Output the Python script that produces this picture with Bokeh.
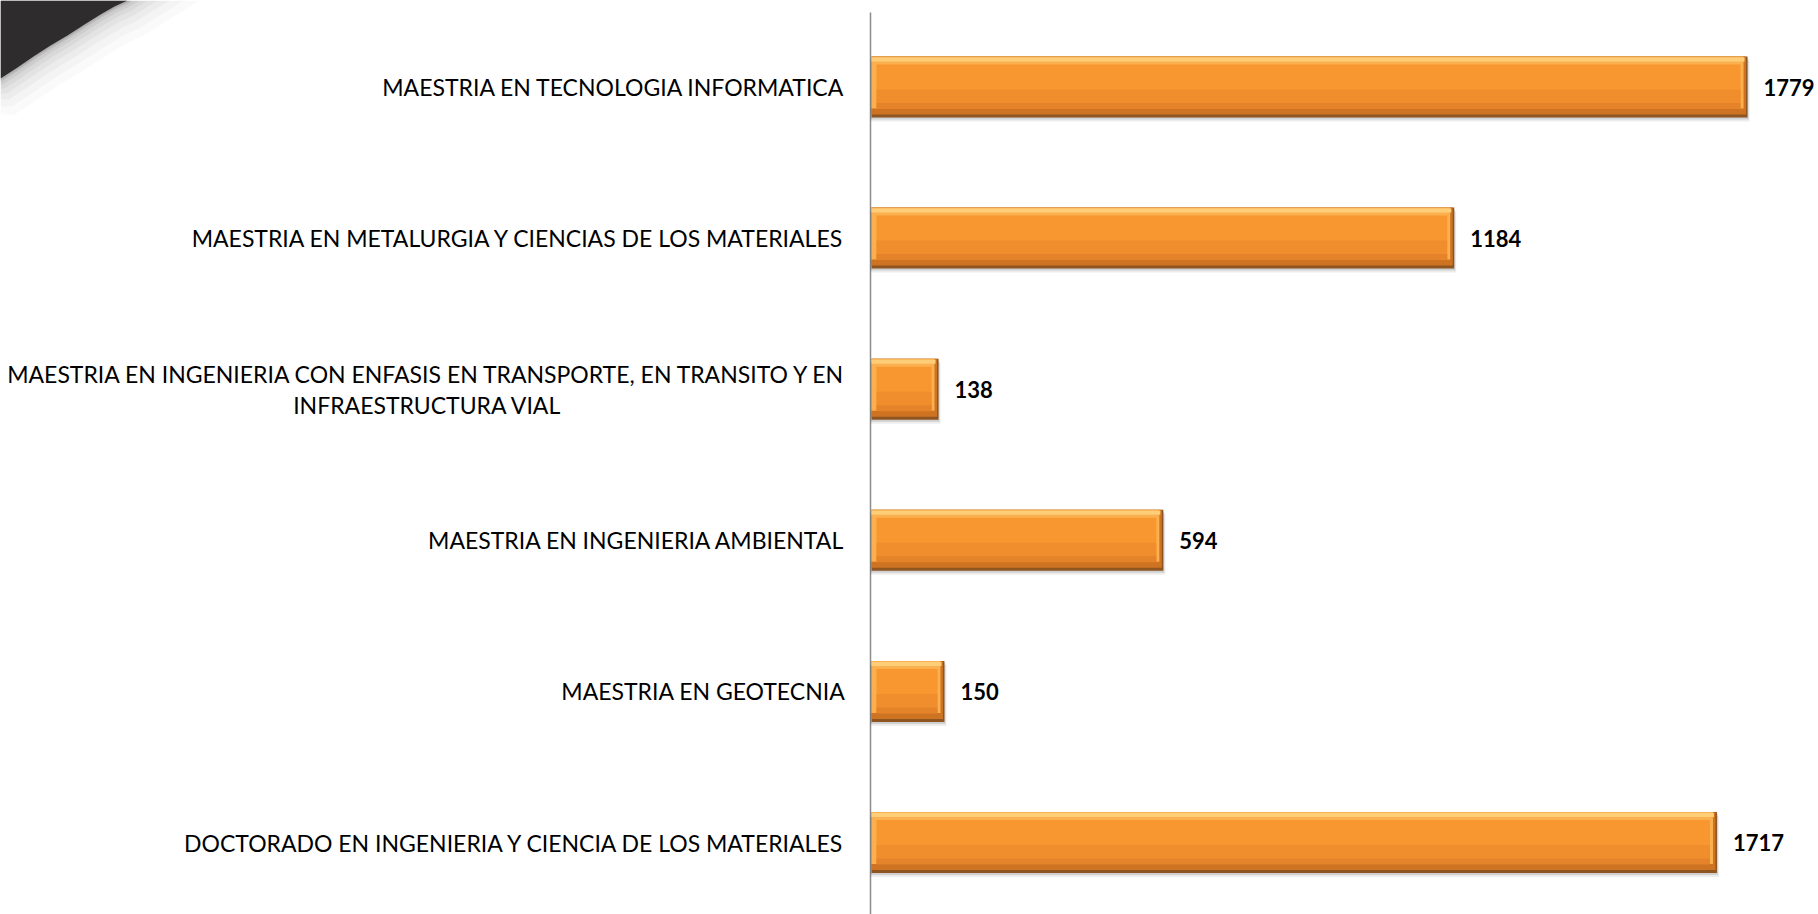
from bokeh.plotting import figure
from bokeh.models import Range1d, ColumnDataSource
from bokeh.transform import dodge
from bokeh.core.properties import value
from bokeh.embed import file_html
from bokeh.resources import INLINE

# ---- data (bottom to top) ----
categories = [
    "DOCTORADO EN INGENIERIA Y CIENCIA DE LOS MATERIALES",
    "MAESTRIA EN GEOTECNIA",
    "MAESTRIA EN INGENIERIA AMBIENTAL",
    "MAESTRIA EN INGENIERIA CON ENFASIS EN TRANSPORTE, EN TRANSITO Y EN\nINFRAESTRUCTURA VIAL",
    "MAESTRIA EN METALURGIA Y CIENCIAS DE LOS MATERIALES",
    "MAESTRIA EN TECNOLOGIA INFORMATICA",
]
values = [1717, 150, 594, 138, 1184, 1779]

W, HT = 1818, 914
AXIS_PX = 870          # pixel position of the value axis
SX = 0.493             # pixels per data unit (x)
UY = 151.1             # pixels per category step (y)
TOP_CENTER_PX = 86.5   # pixel position of top category centre

XL = -AXIS_PX / SX
XR = (W - AXIS_PX) / SX
Y1 = (len(categories) - 1) + TOP_CENTER_PX / UY
Y0 = Y1 - HT / UY
PX = 1 / SX
PY = 1 / UY
H = 61 * PY

ys = list(range(len(categories)))
label_align = ["center" if "\n" in c else "right" for c in categories]
label_xoff = [-(25 + 418) if "\n" in c else -25 for c in categories]
src = ColumnDataSource(dict(y=ys, v=values, vlabel=[str(v) for v in values],
                            cat=categories, align=label_align, xoff=label_xoff,
                            zero=[0] * len(values)))

p = figure(width=W, height=HT, x_range=Range1d(XL, XR), y_range=Range1d(Y0, Y1),
           output_backend="svg", toolbar_location=None,
           min_border=0, min_border_left=0, min_border_right=0,
           min_border_top=0, min_border_bottom=0)
p.xaxis.visible = False
p.yaxis.visible = False
p.xgrid.visible = False
p.ygrid.visible = False
p.outline_line_color = None
p.background_fill_color = "white"
p.border_fill_color = "white"

# ---- decorative dark corner (page-pixel shape converted to data space) ----
edge = [(0, 78), (17, 67), (33, 56), (50, 45), (67, 35), (84, 24), (100, 14), (114, 6), (127, 0)]


def to_data(pts):
    return [XL + x * PX for x, _ in pts], [Y1 - y * PY for _, y in pts]


for d, a in [(36, 0.02), (28, 0.025), (21, 0.03), (15, 0.035), (10, 0.045), (6, 0.055), (3, 0.07), (1.5, 0.09)]:
    shifted = [(x + 0.4 * d, y + d) for x, y in edge]
    lx, ly = shifted[-1]
    pts = [(0, 0), (0, 78 + d)] + shifted + [(lx + ly / 0.62, 0)]
    sx, sy = to_data(pts)
    p.patch(sx, sy, fill_color="#000000", fill_alpha=a, line_color=None)
cx, cy = to_data([(0, 0)] + edge)
p.patch(cx, cy, fill_color="#2E2C2D", line_color=None)

# ---- value axis line ----
p.segment(x0=[0], y0=[Y0], x1=[0], y1=[Y1 - 12 * PY], line_color="#8C8C8C", line_width=1.5)

# ---- bars (layered to imitate bevel) ----
p.hbar(y=dodge("y", -4 * PY), left=0, right=dodge("v", 2 * PX), height=H, source=src,
       fill_color="#000000", fill_alpha=0.07, line_color=None)
p.hbar(y=dodge("y", -2 * PY), left=0, right=dodge("v", 1 * PX), height=H, source=src,
       fill_color="#000000", fill_alpha=0.12, line_color=None)
p.hbar(y="y", left=1 * PX, right="v", height=H, source=src, fill_color="#8E5520", line_color=None)
p.hbar(y=dodge("y", 1.5 * PY), left=1 * PX, right=dodge("v", -1.5 * PX), height=58 * PY, source=src,
       fill_color="#CD7322", line_color=None)
p.hbar(y=dodge("y", 4.5 * PY), left=1 * PX, right=dodge("v", -4 * PX), height=52 * PY, source=src,
       fill_color="#FAB04E", line_color=None)
p.hbar(y=dodge("y", 27.5 * PY), left=1 * PX, right=dodge("v", -3 * PX), height=4 * PY, source=src,
       fill_color="#FDCD78", line_color=None)
p.hbar(y=dodge("y", 0.5 * PY), left=6 * PX, right=dodge("v", -7 * PX), height=44 * PY, source=src,
       fill_color="#F8962F", line_color=None)
p.hbar(y=dodge("y", -12 * PY), left=6 * PX, right=dodge("v", -7 * PX), height=19 * PY, source=src,
       fill_color="#F08D2C", line_color=None)
p.hbar(y=dodge("y", -19 * PY), left=6 * PX, right=dodge("v", -7 * PX), height=6 * PY, source=src,
       fill_color="#E5832A", line_color=None)

# ---- category labels ----
p.text(x="zero", y="y", text="cat", source=src, x_offset="xoff",
       text_align="align", text_baseline="middle",
       text_font=value("Lato"), text_font_size="23px", text_color="#000000",
       text_line_height=1.12)

# ---- value labels ----
p.text(x="v", y="y", text="vlabel", source=src, x_offset=16,
       text_align="left", text_baseline="middle",
       text_font=value("Lato"), text_font_style="bold", text_font_size="22px",
       text_color="#000000")

open("out.html", "w").write(file_html(p, INLINE))
